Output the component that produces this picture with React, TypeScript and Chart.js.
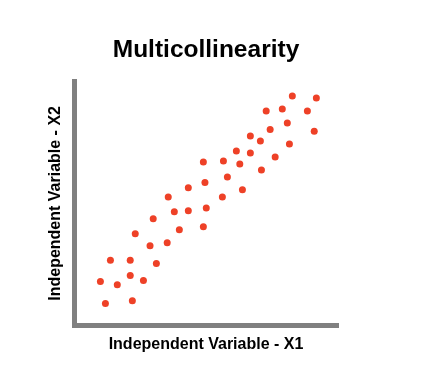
import React, { useEffect, useRef } from "react";
import { Chart, registerables } from "chart.js";

Chart.register(...registerables);

const titleText = "Multicollinearity";
const xAxisTitle = "Independent Variable - X1";
const yAxisTitle = "Independent Variable - X2";

const x1Values = [
  1.0, 1.19, 1.38, 1.64, 2.13, 2.13, 2.21, 2.32, 2.63, 2.88, 3.0, 3.12, 3.53, 3.57,
  3.8, 3.99, 4.33, 4.33, 4.9, 4.96, 5.01, 4.9, 5.62, 5.66, 5.81, 6.15, 6.28, 6.38,
  6.68, 6.68, 7.06, 7.1, 7.28, 7.43, 7.62, 7.89, 8.08, 8.16, 8.27, 8.84, 9.1, 9.18,
];
const x2Values = [
  1.74, 0.84, 2.61, 1.61, 2.61, 1.98, 0.96, 3.69, 1.78, 3.2, 4.3, 2.47, 3.32, 5.19,
  4.58, 3.85, 5.56, 4.63, 6.61, 5.78, 4.74, 3.97, 5.19, 6.65, 6.0, 7.06, 6.53, 5.48,
  7.67, 6.98, 7.47, 6.29, 8.69, 7.94, 6.82, 8.77, 8.2, 7.35, 9.3, 8.69, 7.87, 9.22,
];

const pointColor = "#ee4127";
const axisColor = "#808080";

export default function App() {
  const ref = useRef<HTMLCanvasElement | null>(null);

  useEffect(() => {
    document.body.style.margin = "0";
    const canvas = ref.current;
    if (!canvas) return;
    const data = x1Values.map((x, i) => ({ x, y: x2Values[i] }));
    const chart = new Chart(canvas, {
      type: "scatter",
      data: {
        datasets: [
          {
            data,
            backgroundColor: pointColor,
            borderWidth: 0,
            pointRadius: 3.5,
          },
        ],
      },
      options: {
        animation: false,
        responsive: false,
        events: [],
        layout: { padding: { top: 0, left: 42, right: 83, bottom: 32 } },
        plugins: {
          legend: { display: false },
          tooltip: { enabled: false },
          title: {
            display: true,
            fullSize: false,
            text: titleText,
            color: "#000",
            font: { family: "Liberation Sans, Arial, sans-serif", size: 24.5, weight: "bold" },
            padding: { top: 36, bottom: 16 },
          },
        },
        scales: {
          x: {
            type: "linear",
            min: 0,
            max: 10,
            ticks: { display: false },
            grid: { display: false, drawTicks: false },
            border: { display: true, color: axisColor, width: 5 },
            title: {
              display: true,
              text: xAxisTitle,
              color: "#000",
              font: { family: "Liberation Sans, Arial, sans-serif", size: 16, weight: "bold" },
              padding: { top: 9.4, bottom: 0 },
            },
          },
          y: {
            type: "linear",
            min: -0.05,
            max: 9.9,
            ticks: { display: false },
            grid: { display: false, drawTicks: false },
            border: { display: true, color: axisColor, width: 5 },
            title: {
              display: true,
              text: yAxisTitle,
              color: "#000",
              font: { family: "Liberation Sans, Arial, sans-serif", size: 16, weight: "bold" },
              padding: { top: 4, bottom: 8.8 },
            },
          },
        },
      },
    });
    return () => chart.destroy();
  }, []);

  return (
    <div style={{ width: 421, height: 386 }}>
      <canvas ref={ref} width={421} height={386} style={{ width: 421, height: 386, display: "block" }} />
    </div>
  );
}
